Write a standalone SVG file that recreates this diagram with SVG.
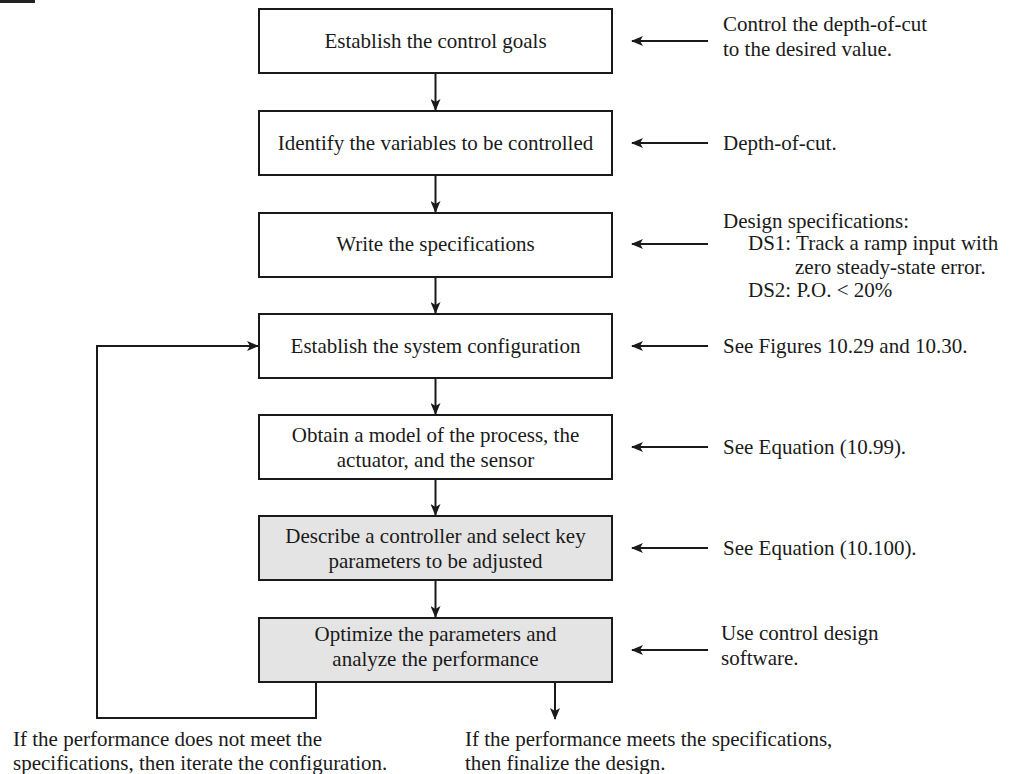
<svg xmlns="http://www.w3.org/2000/svg" width="1016" height="774" viewBox="0 0 1016 774">
<defs>
<style>
.box{fill:#ffffff;stroke:#1a1a1a;stroke-width:2}
.gray{fill:#e4e4e4}
.t{font-family:"Liberation Serif","Times New Roman",serif;font-size:21px;fill:#1a1a1a}
.c{text-anchor:middle}
.ln{fill:none;stroke:#1a1a1a;stroke-width:2}
</style>
<marker id="ah" viewBox="0 0 12 10" refX="11" refY="5" markerWidth="12" markerHeight="10" markerUnits="userSpaceOnUse" orient="auto">
<path d="M0,0 L12,5 L0,10 L3,5 Z" fill="#1a1a1a"/>
</marker>
</defs>
<rect width="1016" height="774" fill="#ffffff"/>
<rect x="0" y="0" width="35" height="3" fill="#222"/>

<g id="n1"><rect class="box" x="259" y="9" width="353" height="64"/><text class="t c" x="435.5" y="48">Establish the control goals</text></g>
<g id="n2"><rect class="box" x="259" y="111" width="353" height="64"/><text class="t c" x="435.5" y="150">Identify the variables to be controlled</text></g>
<g id="n3"><rect class="box" x="259" y="213" width="353" height="64"/><text class="t c" x="435.5" y="251">Write the specifications</text></g>
<g id="n4"><rect class="box" x="259" y="314" width="353" height="64"/><text class="t c" x="435.5" y="353">Establish the system configuration</text></g>
<g id="n5"><rect class="box" x="259" y="415" width="353" height="64"/><text class="t c" x="435.5" y="442">Obtain a model of the process, the</text><text class="t c" x="435.5" y="467">actuator, and the sensor</text></g>
<g id="n6"><rect class="box gray" x="259" y="516" width="353" height="64"/><text class="t c" x="435.5" y="543">Describe a controller and select key</text><text class="t c" x="435.5" y="568">parameters to be adjusted</text></g>
<g id="n7"><rect class="box gray" x="259" y="618" width="353" height="64"/><text class="t c" x="435.5" y="641">Optimize the parameters and</text><text class="t c" x="435.5" y="666">analyze the performance</text></g>

<g id="notes">
<text class="t" x="723" y="31">Control the depth-of-cut</text>
<text class="t" x="723" y="56">to the desired value.</text>
<text class="t" x="723" y="150">Depth-of-cut.</text>
<text class="t" x="723" y="228">Design specifications:</text>
<text class="t" x="748" y="250">DS1: Track a ramp input with</text>
<text class="t" x="795" y="274">zero steady-state error.</text>
<text class="t" x="748" y="297">DS2: P.O. &lt; 20%</text>
<text class="t" x="723" y="353">See Figures 10.29 and 10.30.</text>
<text class="t" x="723" y="454">See Equation (10.99).</text>
<text class="t" x="723" y="555">See Equation (10.100).</text>
<text class="t" x="721" y="640">Use control design</text>
<text class="t" x="721" y="665">software.</text>
<text class="t" x="13" y="746">If the performance does not meet the</text>
<text class="t" x="13" y="770">specifications, then iterate the configuration.</text>
<text class="t" x="465" y="746">If the performance meets the specifications,</text>
<text class="t" x="465" y="770">then finalize the design.</text>
</g>

<g id="connectors">
<line class="ln" x1="435.5" y1="73" x2="435.5" y2="110" marker-end="url(#ah)"/>
<line class="ln" x1="435.5" y1="175" x2="435.5" y2="212" marker-end="url(#ah)"/>
<line class="ln" x1="435.5" y1="277" x2="435.5" y2="313" marker-end="url(#ah)"/>
<line class="ln" x1="435.5" y1="378" x2="435.5" y2="414" marker-end="url(#ah)"/>
<line class="ln" x1="435.5" y1="479" x2="435.5" y2="515" marker-end="url(#ah)"/>
<line class="ln" x1="435.5" y1="580" x2="435.5" y2="617" marker-end="url(#ah)"/>
<line class="ln" x1="555" y1="682" x2="555" y2="719" marker-end="url(#ah)"/>
<polyline class="ln" points="316,682 316,718 97,718 97,346 258,346" marker-end="url(#ah)"/>
<line class="ln" x1="708" y1="41" x2="632" y2="41" marker-end="url(#ah)"/>
<line class="ln" x1="708" y1="143" x2="632" y2="143" marker-end="url(#ah)"/>
<line class="ln" x1="708" y1="244" x2="632" y2="244" marker-end="url(#ah)"/>
<line class="ln" x1="708" y1="346" x2="632" y2="346" marker-end="url(#ah)"/>
<line class="ln" x1="708" y1="447" x2="632" y2="447" marker-end="url(#ah)"/>
<line class="ln" x1="708" y1="548" x2="632" y2="548" marker-end="url(#ah)"/>
<line class="ln" x1="708" y1="650" x2="632" y2="650" marker-end="url(#ah)"/>
</g>
</svg>
